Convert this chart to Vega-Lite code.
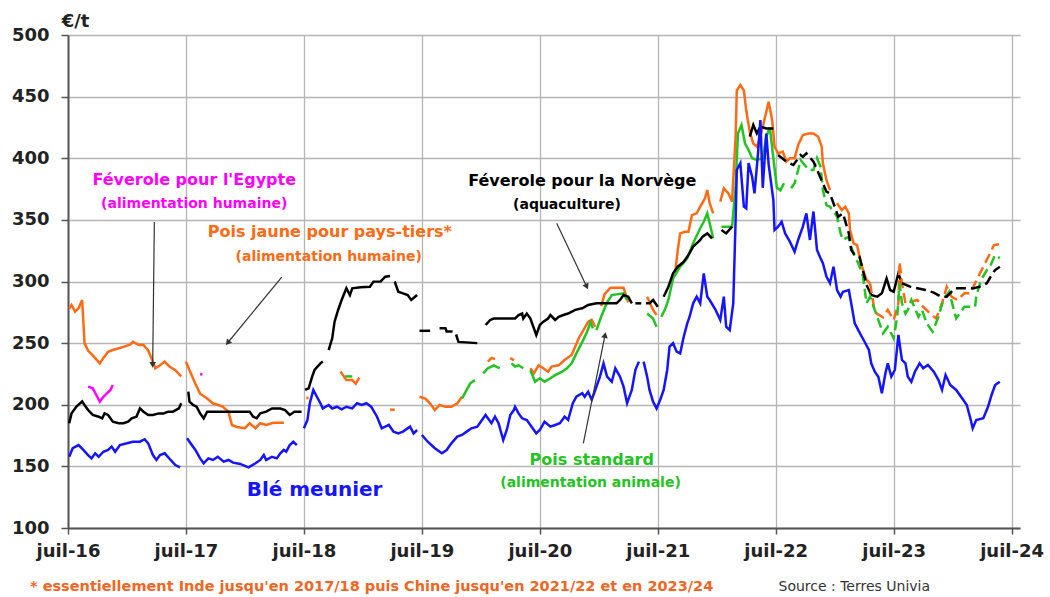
{
"$schema":"https://vega.github.io/schema/vega-lite/v6.json",
"width":952,"height":493,
"autosize":{"type":"none"},
"padding":{"left":68,"top":35,"right":30,"bottom":69},
"background":"white",
"config":{"view":{"stroke":null},"font":"DejaVu Sans"},
"title":{"text":"* essentiellement Inde jusqu'en 2017/18 puis Chine jusqu'en 2021/22 et en 2023/24","orient":"bottom","anchor":"start","frame":"group","offset":0,"dx":-38,"dy":-13,"baseline":"top","fontSize":14.5,"fontWeight":"bold","color":"#f26522","font":"DejaVu Sans"},
"datasets":{
"lines":[
{"s":"J","g":"o1","t":2016.51,"v":278},{"s":"J","g":"o1","t":2016.53,"v":281},{"s":"J","g":"o1","t":2016.56,"v":275.5},{"s":"J","g":"o1","t":2016.59,"v":278.5},{"s":"J","g":"o1","t":2016.62,"v":285},{"s":"J","g":"o1","t":2016.64,"v":250},{"s":"J","g":"o1","t":2016.67,"v":244},{"s":"J","g":"o1","t":2016.71,"v":240},{"s":"J","g":"o1","t":2016.77,"v":233.6},{"s":"J","g":"o1","t":2016.80,"v":238},{"s":"J","g":"o1","t":2016.84,"v":243},{"s":"J","g":"o1","t":2016.88,"v":244.4},{"s":"J","g":"o1","t":2016.93,"v":245.8},{"s":"J","g":"o1","t":2016.97,"v":247},{"s":"J","g":"o1","t":2017.03,"v":249},{"s":"J","g":"o1","t":2017.05,"v":251},{"s":"J","g":"o1","t":2017.10,"v":248.5},{"s":"J","g":"o1","t":2017.14,"v":248.5},{"s":"J","g":"o1","t":2017.18,"v":244},{"s":"J","g":"o1","t":2017.22,"v":235},{"s":"J","g":"o1","t":2017.24,"v":229.6},{"s":"J","g":"o1","t":2017.28,"v":232},{"s":"J","g":"o1","t":2017.32,"v":235},{"s":"J","g":"o1","t":2017.36,"v":231},{"s":"J","g":"o1","t":2017.41,"v":228},{"s":"J","g":"o1","t":2017.46,"v":223},
{"s":"J","g":"o2","t":2017.50,"v":235},{"s":"J","g":"o2","t":2017.53,"v":228},{"s":"J","g":"o2","t":2017.58,"v":217},{"s":"J","g":"o2","t":2017.62,"v":209},{"s":"J","g":"o2","t":2017.68,"v":205},{"s":"J","g":"o2","t":2017.73,"v":201},{"s":"J","g":"o2","t":2017.77,"v":200},{"s":"J","g":"o2","t":2017.81,"v":198.5},{"s":"J","g":"o2","t":2017.86,"v":194.4},{"s":"J","g":"o2","t":2017.89,"v":183.6},{"s":"J","g":"o2","t":2017.93,"v":182},{"s":"J","g":"o2","t":2018.00,"v":181},{"s":"J","g":"o2","t":2018.04,"v":185},{"s":"J","g":"o2","t":2018.09,"v":181},{"s":"J","g":"o2","t":2018.13,"v":185},{"s":"J","g":"o2","t":2018.18,"v":183.6},{"s":"J","g":"o2","t":2018.24,"v":185.4},{"s":"J","g":"o2","t":2018.33,"v":185.4},
{"s":"J","g":"o3","t":2018.52,"v":205.5},{"s":"J","g":"o3","t":2018.54,"v":205.5},
{"s":"J","g":"o4","t":2018.81,"v":227},{"s":"J","g":"o4","t":2018.86,"v":220},{"s":"J","g":"o4","t":2018.91,"v":220},{"s":"J","g":"o4","t":2018.94,"v":217},{"s":"J","g":"o4","t":2018.97,"v":222},
{"s":"J","g":"o5","t":2019.23,"v":196},{"s":"J","g":"o5","t":2019.27,"v":196},
{"s":"J","g":"o6","t":2019.48,"v":206.5},{"s":"J","g":"o6","t":2019.53,"v":205},{"s":"J","g":"o6","t":2019.57,"v":201},{"s":"J","g":"o6","t":2019.61,"v":195.7},{"s":"J","g":"o6","t":2019.65,"v":199.8},{"s":"J","g":"o6","t":2019.70,"v":198.4},{"s":"J","g":"o6","t":2019.75,"v":198.4},{"s":"J","g":"o6","t":2019.80,"v":201},{"s":"J","g":"o6","t":2019.84,"v":206.5},
{"s":"J","g":"o7","t":2020.06,"v":235},{"s":"J","g":"o7","t":2020.09,"v":238},{"s":"J","g":"o7","t":2020.12,"v":237},
{"s":"J","g":"o8","t":2020.25,"v":238},{"s":"J","g":"o8","t":2020.28,"v":236},
{"s":"J","g":"o9","t":2020.42,"v":229.6},{"s":"J","g":"o9","t":2020.45,"v":225.5},{"s":"J","g":"o9","t":2020.49,"v":232},{"s":"J","g":"o9","t":2020.53,"v":229.6},{"s":"J","g":"o9","t":2020.57,"v":226.8},{"s":"J","g":"o9","t":2020.60,"v":231},{"s":"J","g":"o9","t":2020.66,"v":232},{"s":"J","g":"o9","t":2020.71,"v":236.3},{"s":"J","g":"o9","t":2020.77,"v":240.4},{"s":"J","g":"o9","t":2020.80,"v":247},{"s":"J","g":"o9","t":2020.83,"v":254},{"s":"J","g":"o9","t":2020.87,"v":260.6},{"s":"J","g":"o9","t":2020.91,"v":267.4},{"s":"J","g":"o9","t":2020.94,"v":268.8},{"s":"J","g":"o9","t":2020.97,"v":263.3},
{"s":"J","g":"o10","t":2021.02,"v":280},{"s":"J","g":"o10","t":2021.05,"v":290},{"s":"J","g":"o10","t":2021.10,"v":295},{"s":"J","g":"o10","t":2021.21,"v":295},{"s":"J","g":"o10","t":2021.25,"v":283},
{"s":"J","g":"o11","t":2021.41,"v":287.7},{"s":"J","g":"o11","t":2021.46,"v":276.9},{"s":"J","g":"o11","t":2021.49,"v":272.8},
{"s":"J","g":"o12","t":2021.65,"v":309.3},{"s":"J","g":"o12","t":2021.67,"v":325.6},{"s":"J","g":"o12","t":2021.69,"v":339},{"s":"J","g":"o12","t":2021.73,"v":340.4},{"s":"J","g":"o12","t":2021.76,"v":340.4},{"s":"J","g":"o12","t":2021.79,"v":353.9},{"s":"J","g":"o12","t":2021.83,"v":355.3},{"s":"J","g":"o12","t":2021.86,"v":360.7},{"s":"J","g":"o12","t":2021.90,"v":367.5},{"s":"J","g":"o12","t":2021.92,"v":374.2},{"s":"J","g":"o12","t":2021.94,"v":363.5},{"s":"J","g":"o12","t":2021.97,"v":355.3},
{"s":"J","g":"o13","t":2022.03,"v":364.8},{"s":"J","g":"o13","t":2022.06,"v":375.6},{"s":"J","g":"o13","t":2022.10,"v":371.5},{"s":"J","g":"o13","t":2022.13,"v":364.8},{"s":"J","g":"o13","t":2022.16,"v":417.5},{"s":"J","g":"o13","t":2022.17,"v":455},{"s":"J","g":"o13","t":2022.20,"v":459.4},{"s":"J","g":"o13","t":2022.23,"v":455},{"s":"J","g":"o13","t":2022.25,"v":438.9},{"s":"J","g":"o13","t":2022.28,"v":421.5},{"s":"J","g":"o13","t":2022.31,"v":412},{"s":"J","g":"o13","t":2022.34,"v":409.4},{"s":"J","g":"o13","t":2022.37,"v":417.5},{"s":"J","g":"o13","t":2022.41,"v":433.7},{"s":"J","g":"o13","t":2022.44,"v":445.9},{"s":"J","g":"o13","t":2022.47,"v":431},{"s":"J","g":"o13","t":2022.49,"v":409.4},{"s":"J","g":"o13","t":2022.52,"v":404},{"s":"J","g":"o13","t":2022.56,"v":405.4},{"s":"J","g":"o13","t":2022.59,"v":397.3},{"s":"J","g":"o13","t":2022.62,"v":400},{"s":"J","g":"o13","t":2022.66,"v":400},{"s":"J","g":"o13","t":2022.69,"v":410.7},{"s":"J","g":"o13","t":2022.73,"v":418.9},{"s":"J","g":"o13","t":2022.78,"v":420.1},{"s":"J","g":"o13","t":2022.82,"v":420.1},{"s":"J","g":"o13","t":2022.86,"v":417.5},{"s":"J","g":"o13","t":2022.89,"v":409.4},{"s":"J","g":"o13","t":2022.90,"v":395.9},{"s":"J","g":"o13","t":2022.93,"v":382.4},{"s":"J","g":"o13","t":2022.96,"v":374.2},
{"s":"J","g":"o14","t":2023.02,"v":363.5},{"s":"J","g":"o14","t":2023.06,"v":358},{"s":"J","g":"o14","t":2023.09,"v":360.7},{"s":"J","g":"o14","t":2023.12,"v":355.3},{"s":"J","g":"o14","t":2023.13,"v":341.8},{"s":"J","g":"o14","t":2023.16,"v":331},{"s":"J","g":"o14","t":2023.19,"v":329.6},{"s":"J","g":"o14","t":2023.21,"v":320.2},{"s":"J","g":"o14","t":2023.24,"v":309.3},{"s":"J","g":"o14","t":2023.27,"v":301.3},{"s":"J","g":"o14","t":2023.30,"v":298.6},
{"s":"J","g":"o15","t":2023.30,"v":298.6},{"s":"J","g":"o15","t":2023.34,"v":275},{"s":"J","g":"o15","t":2023.41,"v":271},{"s":"J","g":"o15","t":2023.45,"v":277},{"s":"J","g":"o15","t":2023.50,"v":268.8},{"s":"J","g":"o15","t":2023.54,"v":282.3},{"s":"J","g":"o15","t":2023.55,"v":316},{"s":"J","g":"o15","t":2023.57,"v":298.6},{"s":"J","g":"o15","t":2023.60,"v":282.3},{"s":"J","g":"o15","t":2023.70,"v":285},{"s":"J","g":"o15","t":2023.75,"v":279.5},{"s":"J","g":"o15","t":2023.81,"v":274},{"s":"J","g":"o15","t":2023.86,"v":270},{"s":"J","g":"o15","t":2023.91,"v":282.3},{"s":"J","g":"o15","t":2023.95,"v":295.8},{"s":"J","g":"o15","t":2023.99,"v":287.7},{"s":"J","g":"o15","t":2024.04,"v":285},{"s":"J","g":"o15","t":2024.10,"v":290.4},{"s":"J","g":"o15","t":2024.15,"v":290.4},{"s":"J","g":"o15","t":2024.19,"v":298.6},{"s":"J","g":"o15","t":2024.26,"v":312},{"s":"J","g":"o15","t":2024.31,"v":321.5},{"s":"J","g":"o15","t":2024.35,"v":329.6},{"s":"J","g":"o15","t":2024.40,"v":330.4},
{"s":"S","g":"g1","t":2018.85,"v":223},{"s":"S","g":"g1","t":2018.91,"v":223},
{"s":"S","g":"g2","t":2019.84,"v":205},{"s":"S","g":"g2","t":2019.88,"v":212},{"s":"S","g":"g2","t":2019.91,"v":217.4},{"s":"S","g":"g2","t":2019.95,"v":220},
{"s":"S","g":"g3","t":2020.02,"v":225.5},{"s":"S","g":"g3","t":2020.06,"v":229.6},{"s":"S","g":"g3","t":2020.11,"v":232},{"s":"S","g":"g3","t":2020.16,"v":229.6},
{"s":"S","g":"g4","t":2020.26,"v":233.6},{"s":"S","g":"g4","t":2020.29,"v":231},{"s":"S","g":"g4","t":2020.32,"v":232},{"s":"S","g":"g4","t":2020.36,"v":229.6},
{"s":"S","g":"g5","t":2020.42,"v":228},{"s":"S","g":"g5","t":2020.46,"v":218.7},{"s":"S","g":"g5","t":2020.50,"v":221.5},{"s":"S","g":"g5","t":2020.54,"v":218.7},{"s":"S","g":"g5","t":2020.59,"v":221.5},{"s":"S","g":"g5","t":2020.63,"v":224},{"s":"S","g":"g5","t":2020.69,"v":226.8},{"s":"S","g":"g5","t":2020.73,"v":229.6},{"s":"S","g":"g5","t":2020.77,"v":233.6},{"s":"S","g":"g5","t":2020.81,"v":241.7},{"s":"S","g":"g5","t":2020.86,"v":251},{"s":"S","g":"g5","t":2020.90,"v":259},{"s":"S","g":"g5","t":2020.93,"v":267},{"s":"S","g":"g5","t":2020.95,"v":262},
{"s":"S","g":"g6","t":2020.98,"v":260.6},{"s":"S","g":"g6","t":2021.02,"v":271.4},{"s":"S","g":"g6","t":2021.07,"v":283},{"s":"S","g":"g6","t":2021.11,"v":289},{"s":"S","g":"g6","t":2021.21,"v":290.4},{"s":"S","g":"g6","t":2021.24,"v":285},
{"s":"S","g":"g7","t":2021.41,"v":274},{"s":"S","g":"g7","t":2021.46,"v":270},{"s":"S","g":"g7","t":2021.49,"v":263.3},
{"s":"S","g":"g8","t":2021.53,"v":271.4},{"s":"S","g":"g8","t":2021.56,"v":277},{"s":"S","g":"g8","t":2021.59,"v":285},{"s":"S","g":"g8","t":2021.63,"v":302.5},{"s":"S","g":"g8","t":2021.69,"v":312},{"s":"S","g":"g8","t":2021.75,"v":318.8},{"s":"S","g":"g8","t":2021.80,"v":331},{"s":"S","g":"g8","t":2021.86,"v":343.2},{"s":"S","g":"g8","t":2021.89,"v":348.5},{"s":"S","g":"g8","t":2021.92,"v":355.3},{"s":"S","g":"g8","t":2021.94,"v":347.2},{"s":"S","g":"g8","t":2021.97,"v":335},
{"s":"S","g":"g9","t":2022.04,"v":344.5},{"s":"S","g":"g9","t":2022.13,"v":344.5},{"s":"S","g":"g9","t":2022.16,"v":377},{"s":"S","g":"g9","t":2022.18,"v":420.2},{"s":"S","g":"g9","t":2022.21,"v":427},{"s":"S","g":"g9","t":2022.24,"v":412},{"s":"S","g":"g9","t":2022.27,"v":406.7},{"s":"S","g":"g9","t":2022.30,"v":400},{"s":"S","g":"g9","t":2022.34,"v":398.6},{"s":"S","g":"g9","t":2022.39,"v":400},{"s":"S","g":"g9","t":2022.42,"v":417.5},{"s":"S","g":"g9","t":2022.45,"v":425},{"s":"S","g":"g9","t":2022.48,"v":400},{"s":"S","g":"g9","t":2022.51,"v":376},{"s":"S","g":"g9","t":2022.54,"v":374},{"s":"S","g":"g9","t":2022.57,"v":379.7},
{"s":"S","g":"g10","t":2022.63,"v":375.6},{"s":"S","g":"g10","t":2022.66,"v":379.7},{"s":"S","g":"g10","t":2022.69,"v":390.5},{"s":"S","g":"g10","t":2022.71,"v":398.6},{"s":"S","g":"g10","t":2022.78,"v":390.5},{"s":"S","g":"g10","t":2022.82,"v":390.5},{"s":"S","g":"g10","t":2022.85,"v":400},{"s":"S","g":"g10","t":2022.88,"v":393.3},{"s":"S","g":"g10","t":2022.90,"v":374.2},{"s":"S","g":"g10","t":2022.93,"v":362},{"s":"S","g":"g10","t":2022.96,"v":360.7},{"s":"S","g":"g10","t":2023.02,"v":352.6},{"s":"S","g":"g10","t":2023.05,"v":339},{"s":"S","g":"g10","t":2023.07,"v":333.7},{"s":"S","g":"g10","t":2023.12,"v":336.4},{"s":"S","g":"g10","t":2023.14,"v":328.3},{"s":"S","g":"g10","t":2023.17,"v":320.2},{"s":"S","g":"g10","t":2023.20,"v":314.8},{"s":"S","g":"g10","t":2023.24,"v":304},{"s":"S","g":"g10","t":2023.27,"v":282.3},{"s":"S","g":"g10","t":2023.30,"v":287.7},{"s":"S","g":"g10","t":2023.41,"v":258},{"s":"S","g":"g10","t":2023.45,"v":263.3},{"s":"S","g":"g10","t":2023.50,"v":254},{"s":"S","g":"g10","t":2023.53,"v":271.4},{"s":"S","g":"g10","t":2023.55,"v":298.6},{"s":"S","g":"g10","t":2023.57,"v":282.3},{"s":"S","g":"g10","t":2023.60,"v":274},{"s":"S","g":"g10","t":2023.62,"v":277},{"s":"S","g":"g10","t":2023.65,"v":285},{"s":"S","g":"g10","t":2023.71,"v":271.4},{"s":"S","g":"g10","t":2023.74,"v":277},{"s":"S","g":"g10","t":2023.78,"v":266},{"s":"S","g":"g10","t":2023.83,"v":259.3},{"s":"S","g":"g10","t":2023.88,"v":271.4},{"s":"S","g":"g10","t":2023.92,"v":285},{"s":"S","g":"g10","t":2023.97,"v":291.7},{"s":"S","g":"g10","t":2024.03,"v":270},{"s":"S","g":"g10","t":2024.06,"v":274},{"s":"S","g":"g10","t":2024.10,"v":279.5},{"s":"S","g":"g10","t":2024.19,"v":279.5},{"s":"S","g":"g10","t":2024.20,"v":287.7},{"s":"S","g":"g10","t":2024.24,"v":301.3},{"s":"S","g":"g10","t":2024.29,"v":309.3},{"s":"S","g":"g10","t":2024.31,"v":310.7},{"s":"S","g":"g10","t":2024.36,"v":321.5},{"s":"S","g":"g10","t":2024.40,"v":318.8},
{"s":"E","g":"m1","t":2016.67,"v":214.7},{"s":"E","g":"m1","t":2016.71,"v":213.3},{"s":"E","g":"m1","t":2016.74,"v":207.9},{"s":"E","g":"m1","t":2016.77,"v":202.5},{"s":"E","g":"m1","t":2016.80,"v":206.5},{"s":"E","g":"m1","t":2016.83,"v":209.3},{"s":"E","g":"m1","t":2016.86,"v":212},{"s":"E","g":"m1","t":2016.88,"v":216},
{"s":"E","g":"m2","t":2017.62,"v":224.7},{"s":"E","g":"m2","t":2017.64,"v":224.7},
{"s":"N","g":"k1","t":2016.51,"v":185},{"s":"N","g":"k1","t":2016.53,"v":193},{"s":"N","g":"k1","t":2016.57,"v":198.4},{"s":"N","g":"k1","t":2016.62,"v":202.7},{"s":"N","g":"k1","t":2016.64,"v":199.8},{"s":"N","g":"k1","t":2016.67,"v":195.7},{"s":"N","g":"k1","t":2016.71,"v":191.7},{"s":"N","g":"k1","t":2016.76,"v":190.3},{"s":"N","g":"k1","t":2016.79,"v":189},{"s":"N","g":"k1","t":2016.81,"v":193},{"s":"N","g":"k1","t":2016.84,"v":191.7},{"s":"N","g":"k1","t":2016.88,"v":186.2},{"s":"N","g":"k1","t":2016.93,"v":185},{"s":"N","g":"k1","t":2016.97,"v":185},{"s":"N","g":"k1","t":2017.01,"v":186.2},{"s":"N","g":"k1","t":2017.04,"v":189},{"s":"N","g":"k1","t":2017.08,"v":190.3},{"s":"N","g":"k1","t":2017.11,"v":197},{"s":"N","g":"k1","t":2017.14,"v":194.4},{"s":"N","g":"k1","t":2017.18,"v":191.7},{"s":"N","g":"k1","t":2017.22,"v":191.7},{"s":"N","g":"k1","t":2017.27,"v":193},{"s":"N","g":"k1","t":2017.31,"v":193},{"s":"N","g":"k1","t":2017.35,"v":194.4},{"s":"N","g":"k1","t":2017.39,"v":194.4},{"s":"N","g":"k1","t":2017.44,"v":197},{"s":"N","g":"k1","t":2017.46,"v":201.2},
{"s":"N","g":"k2","t":2017.52,"v":210.6},{"s":"N","g":"k2","t":2017.53,"v":202.5},{"s":"N","g":"k2","t":2017.56,"v":199.8},{"s":"N","g":"k2","t":2017.59,"v":198.4},{"s":"N","g":"k2","t":2017.62,"v":193},{"s":"N","g":"k2","t":2017.65,"v":189},{"s":"N","g":"k2","t":2017.68,"v":194.4},{"s":"N","g":"k2","t":2018.04,"v":194.4},{"s":"N","g":"k2","t":2018.07,"v":190.3},{"s":"N","g":"k2","t":2018.10,"v":189},{"s":"N","g":"k2","t":2018.13,"v":193},{"s":"N","g":"k2","t":2018.18,"v":194.4},{"s":"N","g":"k2","t":2018.23,"v":197},{"s":"N","g":"k2","t":2018.30,"v":197},{"s":"N","g":"k2","t":2018.34,"v":195.7},{"s":"N","g":"k2","t":2018.38,"v":191.7},{"s":"N","g":"k2","t":2018.42,"v":194.4},{"s":"N","g":"k2","t":2018.48,"v":194.4},
{"s":"N","g":"k3","t":2018.51,"v":212},{"s":"N","g":"k3","t":2018.54,"v":213.3},{"s":"N","g":"k3","t":2018.57,"v":222.8},{"s":"N","g":"k3","t":2018.59,"v":228.2},{"s":"N","g":"k3","t":2018.64,"v":233.6},{"s":"N","g":"k3","t":2018.66,"v":235},
{"s":"N","g":"k4","t":2018.71,"v":244.4},{"s":"N","g":"k4","t":2018.74,"v":253.9},{"s":"N","g":"k4","t":2018.76,"v":267.4},{"s":"N","g":"k4","t":2018.79,"v":276.9},{"s":"N","g":"k4","t":2018.82,"v":285},{"s":"N","g":"k4","t":2018.86,"v":294.5},{"s":"N","g":"k4","t":2018.89,"v":289},{"s":"N","g":"k4","t":2018.91,"v":294.5},{"s":"N","g":"k4","t":2018.98,"v":295.3},{"s":"N","g":"k4","t":2019.06,"v":295.8},{"s":"N","g":"k4","t":2019.09,"v":299.9},{"s":"N","g":"k4","t":2019.15,"v":300},{"s":"N","g":"k4","t":2019.19,"v":303.9},{"s":"N","g":"k4","t":2019.23,"v":304.5},
{"s":"N","g":"k5","t":2019.27,"v":300},{"s":"N","g":"k5","t":2019.30,"v":291.7},{"s":"N","g":"k5","t":2019.34,"v":290.4},{"s":"N","g":"k5","t":2019.38,"v":289},{"s":"N","g":"k5","t":2019.41,"v":285},{"s":"N","g":"k5","t":2019.46,"v":289},
{"s":"N","g":"k6","t":2019.48,"v":260},{"s":"N","g":"k6","t":2019.57,"v":260},
{"s":"N","g":"k7","t":2019.65,"v":262},{"s":"N","g":"k7","t":2019.70,"v":262},{"s":"N","g":"k7","t":2019.71,"v":259.5},{"s":"N","g":"k7","t":2019.76,"v":259.5},
{"s":"N","g":"k8","t":2019.79,"v":257},{"s":"N","g":"k8","t":2019.81,"v":251},{"s":"N","g":"k8","t":2019.97,"v":250},
{"s":"N","g":"k9","t":2020.04,"v":264.7},{"s":"N","g":"k9","t":2020.08,"v":268.8},{"s":"N","g":"k9","t":2020.11,"v":270},{"s":"N","g":"k9","t":2020.29,"v":270},{"s":"N","g":"k9","t":2020.32,"v":272.8},{"s":"N","g":"k9","t":2020.35,"v":274},{"s":"N","g":"k9","t":2020.36,"v":270},{"s":"N","g":"k9","t":2020.39,"v":274},{"s":"N","g":"k9","t":2020.42,"v":270},{"s":"N","g":"k9","t":2020.45,"v":262},{"s":"N","g":"k9","t":2020.47,"v":256.6},{"s":"N","g":"k9","t":2020.50,"v":264.7},{"s":"N","g":"k9","t":2020.53,"v":267.4},{"s":"N","g":"k9","t":2020.57,"v":270},{"s":"N","g":"k9","t":2020.59,"v":272.8},{"s":"N","g":"k9","t":2020.63,"v":268.8},{"s":"N","g":"k9","t":2020.66,"v":271.4},{"s":"N","g":"k9","t":2020.70,"v":272.8},{"s":"N","g":"k9","t":2020.74,"v":274},{"s":"N","g":"k9","t":2020.80,"v":277},{"s":"N","g":"k9","t":2020.86,"v":278.3},{"s":"N","g":"k9","t":2020.91,"v":281},{"s":"N","g":"k9","t":2020.98,"v":282.3},{"s":"N","g":"k9","t":2021.07,"v":282.3},{"s":"N","g":"k9","t":2021.15,"v":282.3},{"s":"N","g":"k9","t":2021.18,"v":285},{"s":"N","g":"k9","t":2021.21,"v":289},{"s":"N","g":"k9","t":2021.25,"v":287.7},{"s":"N","g":"k9","t":2021.28,"v":282.3},
{"s":"N","g":"k10","t":2021.31,"v":282.3},{"s":"N","g":"k10","t":2021.36,"v":282.3},
{"s":"N","g":"k11","t":2021.40,"v":282.3},{"s":"N","g":"k11","t":2021.43,"v":282.3},{"s":"N","g":"k11","t":2021.46,"v":285},{"s":"N","g":"k11","t":2021.50,"v":279.5},
{"s":"N","g":"k12","t":2021.55,"v":287.7},{"s":"N","g":"k12","t":2021.59,"v":295.8},{"s":"N","g":"k12","t":2021.63,"v":306.6},{"s":"N","g":"k12","t":2021.67,"v":312},{"s":"N","g":"k12","t":2021.72,"v":316},{"s":"N","g":"k12","t":2021.76,"v":321.5},{"s":"N","g":"k12","t":2021.80,"v":328.3},{"s":"N","g":"k12","t":2021.83,"v":331},{"s":"N","g":"k12","t":2021.86,"v":333.7},{"s":"N","g":"k12","t":2021.88,"v":336.4},{"s":"N","g":"k12","t":2021.92,"v":339},{"s":"N","g":"k12","t":2021.96,"v":335},
{"s":"N","g":"k13","t":2022.04,"v":341.8},{"s":"N","g":"k13","t":2022.08,"v":339},{"s":"N","g":"k13","t":2022.13,"v":344.5},
{"s":"N","g":"k14","t":2022.28,"v":417.5},{"s":"N","g":"k14","t":2022.31,"v":427},{"s":"N","g":"k14","t":2022.34,"v":420.2},{"s":"N","g":"k14","t":2022.37,"v":425.6},{"s":"N","g":"k14","t":2022.42,"v":424.2},{"s":"N","g":"k14","t":2022.48,"v":424.2},
{"s":"N","g":"k15","t":2022.52,"v":402.6},{"s":"N","g":"k15","t":2022.59,"v":397.3},{"s":"N","g":"k15","t":2022.65,"v":394.5},{"s":"N","g":"k15","t":2022.71,"v":402.6},{"s":"N","g":"k15","t":2022.73,"v":401.2},{"s":"N","g":"k15","t":2022.76,"v":404},{"s":"N","g":"k15","t":2022.82,"v":397.3},{"s":"N","g":"k15","t":2022.93,"v":372.9},{"s":"N","g":"k15","t":2022.96,"v":371.5},{"s":"N","g":"k15","t":2023.03,"v":352.6},{"s":"N","g":"k15","t":2023.07,"v":355.3},{"s":"N","g":"k15","t":2023.12,"v":339},{"s":"N","g":"k15","t":2023.14,"v":325.6},{"s":"N","g":"k15","t":2023.17,"v":321.5},{"s":"N","g":"k15","t":2023.21,"v":320.2},{"s":"N","g":"k15","t":2023.27,"v":297.2},
{"s":"N","g":"k19","t":2023.27,"v":297.2},{"s":"N","g":"k19","t":2023.31,"v":289},{"s":"N","g":"k19","t":2023.36,"v":287.7},{"s":"N","g":"k19","t":2023.40,"v":290.4},{"s":"N","g":"k19","t":2023.44,"v":302.5},{"s":"N","g":"k19","t":2023.47,"v":293.1},{"s":"N","g":"k19","t":2023.50,"v":291.7},{"s":"N","g":"k19","t":2023.54,"v":306.6},{"s":"N","g":"k19","t":2023.57,"v":298.6},
{"s":"N","g":"k20","t":2023.57,"v":298.6},{"s":"N","g":"k20","t":2023.64,"v":295.8},{"s":"N","g":"k20","t":2023.70,"v":294.5},{"s":"N","g":"k20","t":2023.77,"v":293.1},{"s":"N","g":"k20","t":2023.84,"v":291},{"s":"N","g":"k20","t":2023.90,"v":287.7},{"s":"N","g":"k20","t":2023.95,"v":287.7},{"s":"N","g":"k20","t":2024.02,"v":294.5},{"s":"N","g":"k20","t":2024.09,"v":294.5},{"s":"N","g":"k20","t":2024.18,"v":294.5},{"s":"N","g":"k20","t":2024.23,"v":295.8},{"s":"N","g":"k20","t":2024.29,"v":298.6},{"s":"N","g":"k20","t":2024.33,"v":305.3},{"s":"N","g":"k20","t":2024.36,"v":309.3},{"s":"N","g":"k20","t":2024.40,"v":312},
{"s":"B","g":"b1","t":2016.51,"v":157.8},{"s":"B","g":"b1","t":2016.54,"v":164.7},{"s":"B","g":"b1","t":2016.59,"v":167.3},{"s":"B","g":"b1","t":2016.63,"v":163.3},{"s":"B","g":"b1","t":2016.67,"v":159.2},{"s":"B","g":"b1","t":2016.70,"v":156.5},{"s":"B","g":"b1","t":2016.73,"v":160.6},{"s":"B","g":"b1","t":2016.76,"v":157.8},{"s":"B","g":"b1","t":2016.80,"v":161.9},{"s":"B","g":"b1","t":2016.84,"v":163.3},{"s":"B","g":"b1","t":2016.87,"v":166},{"s":"B","g":"b1","t":2016.90,"v":161.9},{"s":"B","g":"b1","t":2016.94,"v":167.3},{"s":"B","g":"b1","t":2017.00,"v":168.7},{"s":"B","g":"b1","t":2017.05,"v":170},{"s":"B","g":"b1","t":2017.11,"v":170},{"s":"B","g":"b1","t":2017.15,"v":172},{"s":"B","g":"b1","t":2017.18,"v":168.7},{"s":"B","g":"b1","t":2017.22,"v":159.2},{"s":"B","g":"b1","t":2017.25,"v":155.2},{"s":"B","g":"b1","t":2017.28,"v":159.2},{"s":"B","g":"b1","t":2017.32,"v":160.6},{"s":"B","g":"b1","t":2017.37,"v":155.2},{"s":"B","g":"b1","t":2017.41,"v":151.1},{"s":"B","g":"b1","t":2017.45,"v":149.2},
{"s":"B","g":"b2","t":2017.51,"v":172.8},{"s":"B","g":"b2","t":2017.53,"v":170},{"s":"B","g":"b2","t":2017.58,"v":163.3},{"s":"B","g":"b2","t":2017.62,"v":156.5},{"s":"B","g":"b2","t":2017.65,"v":152.5},{"s":"B","g":"b2","t":2017.69,"v":156.5},{"s":"B","g":"b2","t":2017.73,"v":155.2},{"s":"B","g":"b2","t":2017.77,"v":157.8},{"s":"B","g":"b2","t":2017.82,"v":153.8},{"s":"B","g":"b2","t":2017.86,"v":155.2},{"s":"B","g":"b2","t":2017.90,"v":153},{"s":"B","g":"b2","t":2017.96,"v":152},{"s":"B","g":"b2","t":2018.03,"v":149.2},{"s":"B","g":"b2","t":2018.09,"v":152.5},{"s":"B","g":"b2","t":2018.13,"v":155.2},{"s":"B","g":"b2","t":2018.16,"v":159.2},{"s":"B","g":"b2","t":2018.18,"v":155.2},{"s":"B","g":"b2","t":2018.23,"v":157.8},{"s":"B","g":"b2","t":2018.27,"v":156.5},{"s":"B","g":"b2","t":2018.30,"v":160.6},{"s":"B","g":"b2","t":2018.33,"v":163.3},{"s":"B","g":"b2","t":2018.35,"v":161.9},{"s":"B","g":"b2","t":2018.38,"v":167.3},{"s":"B","g":"b2","t":2018.41,"v":170},{"s":"B","g":"b2","t":2018.44,"v":167.3},
{"s":"B","g":"b3","t":2018.50,"v":180.9},{"s":"B","g":"b3","t":2018.53,"v":187.6},{"s":"B","g":"b3","t":2018.55,"v":201.2},{"s":"B","g":"b3","t":2018.58,"v":212},{"s":"B","g":"b3","t":2018.61,"v":206.5},{"s":"B","g":"b3","t":2018.64,"v":201.2},{"s":"B","g":"b3","t":2018.66,"v":197},{"s":"B","g":"b3","t":2018.71,"v":199.8},{"s":"B","g":"b3","t":2018.74,"v":197},{"s":"B","g":"b3","t":2018.78,"v":198.4},{"s":"B","g":"b3","t":2018.82,"v":196.3},{"s":"B","g":"b3","t":2018.86,"v":198.4},{"s":"B","g":"b3","t":2018.91,"v":197},{"s":"B","g":"b3","t":2018.95,"v":201.2},{"s":"B","g":"b3","t":2018.99,"v":199.8},{"s":"B","g":"b3","t":2019.03,"v":201.2},{"s":"B","g":"b3","t":2019.07,"v":198.4},{"s":"B","g":"b3","t":2019.12,"v":190.3},{"s":"B","g":"b3","t":2019.16,"v":180.9},{"s":"B","g":"b3","t":2019.19,"v":182.2},{"s":"B","g":"b3","t":2019.22,"v":183.6},{"s":"B","g":"b3","t":2019.26,"v":178.2},{"s":"B","g":"b3","t":2019.30,"v":176.8},{"s":"B","g":"b3","t":2019.34,"v":178.2},{"s":"B","g":"b3","t":2019.40,"v":182.2},{"s":"B","g":"b3","t":2019.43,"v":176.8},{"s":"B","g":"b3","t":2019.46,"v":179.5},
{"s":"B","g":"b4","t":2019.50,"v":175.5},{"s":"B","g":"b4","t":2019.55,"v":170},{"s":"B","g":"b4","t":2019.61,"v":164.7},{"s":"B","g":"b4","t":2019.67,"v":160.6},{"s":"B","g":"b4","t":2019.71,"v":163.3},{"s":"B","g":"b4","t":2019.75,"v":168.7},{"s":"B","g":"b4","t":2019.80,"v":174.1},{"s":"B","g":"b4","t":2019.84,"v":175.5},{"s":"B","g":"b4","t":2019.88,"v":178.2},{"s":"B","g":"b4","t":2019.92,"v":180.9},{"s":"B","g":"b4","t":2019.97,"v":182.2},{"s":"B","g":"b4","t":2020.01,"v":187.6},{"s":"B","g":"b4","t":2020.04,"v":191.7},{"s":"B","g":"b4","t":2020.06,"v":189},{"s":"B","g":"b4","t":2020.09,"v":185},{"s":"B","g":"b4","t":2020.12,"v":190.3},{"s":"B","g":"b4","t":2020.15,"v":185},{"s":"B","g":"b4","t":2020.19,"v":171.4},{"s":"B","g":"b4","t":2020.22,"v":179.5},{"s":"B","g":"b4","t":2020.25,"v":191.7},{"s":"B","g":"b4","t":2020.28,"v":195.7},{"s":"B","g":"b4","t":2020.29,"v":198.4},{"s":"B","g":"b4","t":2020.32,"v":193},{"s":"B","g":"b4","t":2020.35,"v":189},{"s":"B","g":"b4","t":2020.39,"v":187.6},{"s":"B","g":"b4","t":2020.43,"v":182.2},{"s":"B","g":"b4","t":2020.47,"v":176.8},{"s":"B","g":"b4","t":2020.50,"v":179.5},{"s":"B","g":"b4","t":2020.54,"v":186.2},{"s":"B","g":"b4","t":2020.59,"v":182.2},{"s":"B","g":"b4","t":2020.63,"v":183.6},{"s":"B","g":"b4","t":2020.67,"v":185},{"s":"B","g":"b4","t":2020.71,"v":190.3},{"s":"B","g":"b4","t":2020.74,"v":187.6},{"s":"B","g":"b4","t":2020.78,"v":201.2},{"s":"B","g":"b4","t":2020.81,"v":206.5},{"s":"B","g":"b4","t":2020.86,"v":209.3},{"s":"B","g":"b4","t":2020.88,"v":206.5},{"s":"B","g":"b4","t":2020.91,"v":210.6},{"s":"B","g":"b4","t":2020.94,"v":203.9},{"s":"B","g":"b4","t":2020.97,"v":212},{"s":"B","g":"b4","t":2021.01,"v":222.8},{"s":"B","g":"b4","t":2021.04,"v":233.6},{"s":"B","g":"b4","t":2021.07,"v":222.8},{"s":"B","g":"b4","t":2021.11,"v":218.7},{"s":"B","g":"b4","t":2021.14,"v":229.6},{"s":"B","g":"b4","t":2021.18,"v":222.8},{"s":"B","g":"b4","t":2021.21,"v":214.7},{"s":"B","g":"b4","t":2021.24,"v":201.2},{"s":"B","g":"b4","t":2021.28,"v":212},{"s":"B","g":"b4","t":2021.31,"v":228.2},{"s":"B","g":"b4","t":2021.34,"v":235},
{"s":"B","g":"b5","t":2021.38,"v":235},{"s":"B","g":"b5","t":2021.41,"v":222.8},{"s":"B","g":"b5","t":2021.43,"v":212},{"s":"B","g":"b5","t":2021.46,"v":202.5},{"s":"B","g":"b5","t":2021.49,"v":197},{"s":"B","g":"b5","t":2021.52,"v":203.9},{"s":"B","g":"b5","t":2021.55,"v":212},{"s":"B","g":"b5","t":2021.58,"v":228.2},{"s":"B","g":"b5","t":2021.60,"v":247.1},{"s":"B","g":"b5","t":2021.63,"v":249.9},{"s":"B","g":"b5","t":2021.66,"v":243.1},{"s":"B","g":"b5","t":2021.69,"v":241.7},{"s":"B","g":"b5","t":2021.72,"v":255.2},{"s":"B","g":"b5","t":2021.75,"v":266},{"s":"B","g":"b5","t":2021.77,"v":271.4},{"s":"B","g":"b5","t":2021.80,"v":282.3},{"s":"B","g":"b5","t":2021.83,"v":287.7},{"s":"B","g":"b5","t":2021.86,"v":282.3},{"s":"B","g":"b5","t":2021.89,"v":306.6},{"s":"B","g":"b5","t":2021.92,"v":287.7},{"s":"B","g":"b5","t":2021.94,"v":285},{"s":"B","g":"b5","t":2021.99,"v":277},{"s":"B","g":"b5","t":2022.03,"v":268.8},{"s":"B","g":"b5","t":2022.06,"v":287.7},{"s":"B","g":"b5","t":2022.08,"v":263.3},{"s":"B","g":"b5","t":2022.11,"v":260.6},{"s":"B","g":"b5","t":2022.14,"v":282.3},{"s":"B","g":"b5","t":2022.16,"v":350},{"s":"B","g":"b5","t":2022.17,"v":390.5},{"s":"B","g":"b5","t":2022.20,"v":396},{"s":"B","g":"b5","t":2022.23,"v":360.8},{"s":"B","g":"b5","t":2022.25,"v":359.4},{"s":"B","g":"b5","t":2022.27,"v":396},{"s":"B","g":"b5","t":2022.30,"v":385},{"s":"B","g":"b5","t":2022.32,"v":371.5},{"s":"B","g":"b5","t":2022.35,"v":404},{"s":"B","g":"b5","t":2022.37,"v":431},{"s":"B","g":"b5","t":2022.39,"v":376},{"s":"B","g":"b5","t":2022.42,"v":420},{"s":"B","g":"b5","t":2022.44,"v":395},{"s":"B","g":"b5","t":2022.48,"v":366},{"s":"B","g":"b5","t":2022.49,"v":341.8},{"s":"B","g":"b5","t":2022.52,"v":344.5},{"s":"B","g":"b5","t":2022.55,"v":348.5},{"s":"B","g":"b5","t":2022.58,"v":339},{"s":"B","g":"b5","t":2022.62,"v":332.3},{"s":"B","g":"b5","t":2022.66,"v":324.2},{"s":"B","g":"b5","t":2022.69,"v":333.7},{"s":"B","g":"b5","t":2022.73,"v":344.5},{"s":"B","g":"b5","t":2022.76,"v":355.3},{"s":"B","g":"b5","t":2022.79,"v":333.7},{"s":"B","g":"b5","t":2022.82,"v":356.8},{"s":"B","g":"b5","t":2022.85,"v":325.6},{"s":"B","g":"b5","t":2022.88,"v":318.8},{"s":"B","g":"b5","t":2022.90,"v":314.8},{"s":"B","g":"b5","t":2022.93,"v":304},{"s":"B","g":"b5","t":2022.96,"v":298.6},{"s":"B","g":"b5","t":2022.99,"v":312},{"s":"B","g":"b5","t":2023.02,"v":293.1},{"s":"B","g":"b5","t":2023.05,"v":287.7},{"s":"B","g":"b5","t":2023.07,"v":291.7},{"s":"B","g":"b5","t":2023.12,"v":293.1},{"s":"B","g":"b5","t":2023.14,"v":282.3},{"s":"B","g":"b5","t":2023.17,"v":266},{"s":"B","g":"b5","t":2023.20,"v":260.6},{"s":"B","g":"b5","t":2023.23,"v":255.2},{"s":"B","g":"b5","t":2023.26,"v":249.9},{"s":"B","g":"b5","t":2023.29,"v":244.4},{"s":"B","g":"b5","t":2023.31,"v":233.6},{"s":"B","g":"b5","t":2023.34,"v":226.8},{"s":"B","g":"b5","t":2023.37,"v":222.8},{"s":"B","g":"b5","t":2023.40,"v":209.3},{"s":"B","g":"b5","t":2023.43,"v":225.5},{"s":"B","g":"b5","t":2023.45,"v":233.6},{"s":"B","g":"b5","t":2023.48,"v":222.8},{"s":"B","g":"b5","t":2023.51,"v":228.2},{"s":"B","g":"b5","t":2023.54,"v":256.6},{"s":"B","g":"b5","t":2023.57,"v":236.3},{"s":"B","g":"b5","t":2023.60,"v":233.6},{"s":"B","g":"b5","t":2023.62,"v":222.8},{"s":"B","g":"b5","t":2023.65,"v":218.7},{"s":"B","g":"b5","t":2023.68,"v":226.8},{"s":"B","g":"b5","t":2023.72,"v":233.6},{"s":"B","g":"b5","t":2023.75,"v":229.6},{"s":"B","g":"b5","t":2023.79,"v":232.3},{"s":"B","g":"b5","t":2023.84,"v":226.8},{"s":"B","g":"b5","t":2023.88,"v":220},{"s":"B","g":"b5","t":2023.91,"v":212},{"s":"B","g":"b5","t":2023.94,"v":224.1},{"s":"B","g":"b5","t":2023.98,"v":216},{"s":"B","g":"b5","t":2024.03,"v":212},{"s":"B","g":"b5","t":2024.08,"v":205.2},{"s":"B","g":"b5","t":2024.12,"v":199.8},{"s":"B","g":"b5","t":2024.15,"v":189},{"s":"B","g":"b5","t":2024.17,"v":180.9},{"s":"B","g":"b5","t":2024.20,"v":187.6},{"s":"B","g":"b5","t":2024.26,"v":189},{"s":"B","g":"b5","t":2024.30,"v":198.4},{"s":"B","g":"b5","t":2024.33,"v":207.9},{"s":"B","g":"b5","t":2024.36,"v":216},{"s":"B","g":"b5","t":2024.40,"v":218.7}
],
"labels":[
{"s":"E","txt":"Féverole pour l'Egypte","t":2017.57,"v":382.4,"k":"main"},
{"s":"E","txt":"(alimentation humaine)","t":2017.57,"v":362.9,"k":"sub"},
{"s":"J","txt":"Pois jaune pour pays-tiers*","t":2018.72,"v":340.2,"k":"main"},
{"s":"J","txt":"(alimentation humaine)","t":2018.71,"v":319.9,"k":"sub"},
{"s":"N","txt":"Féverole pour la Norvège","t":2020.86,"v":381.5,"k":"main"},
{"s":"N","txt":"(aquaculture)","t":2020.73,"v":362.1,"k":"sub"},
{"s":"S","txt":"Pois standard","t":2020.94,"v":155.2,"k":"main"},
{"s":"S","txt":"(alimentation animale)","t":2020.93,"v":136.5,"k":"sub"},
{"s":"B","txt":"Blé meunier","t":2018.59,"v":130.8,"k":"big"}
],
"arrows":[
{"t":2017.232,"v":348.3,"t2":2017.218,"v2":232.3},
{"t":2018.312,"v":303.6,"t2":2017.854,"v2":250.3},
{"t":2020.643,"v":347.2,"t2":2020.898,"v2":295.8},
{"t":2020.869,"v":168.7,"t2":2021.053,"v2":256.6}
]
},
"layer":[
{"data":{"name":"lines"},
 "transform":[{"filter":{"not":{"field":"g","oneOf":["k15","k20","o15","g10"]}}}],
 "mark":{"type":"line","strokeWidth":2.5,"clip":true},
 "encoding":{
  "x":{"field":"t","type":"quantitative","scale":{"domain":[2016.5,2024.571],"nice":false,"zero":false},
   "axis":{"values":[2016.5,2017.5,2018.5,2019.5,2020.5,2021.5,2022.5,2023.5,2024.5],"labelExpr":"'juil-' + format(floor(datum.value) % 100, '02d')","labelFont":"DejaVu Sans","labelFontSize":18,"labelFontWeight":"bold","labelColor":"#222","labelPadding":8,"labelFlush":false,"grid":true,"gridColor":"#b5b5b5","gridWidth":1.3,"domainColor":"#555","domainWidth":2,"tickColor":"#555","tickSize":6,"tickWidth":1.5,
    "title":"Source : Terres Univia","titleX":710,"titleY":58,"titleAlign":"left","titleAnchor":null,"titleBaseline":"middle","titleFont":"DejaVu Sans","titleFontSize":14,"titleFontWeight":"normal","titleColor":"#333"}},
  "y":{"field":"v","type":"quantitative","scale":{"domain":[100,500],"nice":false,"zero":false},
   "axis":{"values":[100,150,200,250,300,350,400,450,500],"labelFont":"DejaVu Sans","labelFontSize":18,"labelFontWeight":"bold","labelColor":"#222","labelPadding":12,"grid":true,"gridColor":"#b5b5b5","gridWidth":1.3,"domainColor":"#555","domainWidth":2,"tickColor":"#555","tickSize":7,"tickWidth":1.5,
    "title":"€/t","titleAngle":0,"titleX":7,"titleY":-14,"titleAlign":"center","titleBaseline":"middle","titleFont":"DejaVu Sans","titleFontSize":18,"titleFontWeight":"bold","titleColor":"#222"}},
  "color":{"field":"s","type":"nominal","scale":{"domain":["J","S","E","N","B"],"range":["#ff6a13","#22c322","#ff00ff","#000000","#1414ff"]},"legend":null},
  "detail":{"field":"g","type":"nominal"}
 }},
{"data":{"name":"lines"},
 "transform":[{"filter":{"field":"g","oneOf":["k15","k20","o15","g10"]}}],
 "mark":{"type":"line","strokeWidth":2.5,"strokeDash":[10,5],"clip":true},
 "encoding":{
  "x":{"field":"t","type":"quantitative"},
  "y":{"field":"v","type":"quantitative"},
  "color":{"field":"s","type":"nominal","legend":null},
  "detail":{"field":"g","type":"nominal"}
 }},
{"data":{"name":"arrows"},
 "mark":{"type":"rule","color":"#333","strokeWidth":1.2},
 "encoding":{
  "x":{"field":"t","type":"quantitative"},
  "y":{"field":"v","type":"quantitative"},
  "x2":{"field":"t2"},
  "y2":{"field":"v2"}
 }},
{"data":{"name":"arrows"},
 "transform":[{"calculate":"atan2((datum.t2-datum.t)*117.95, (datum.v2-datum.v)*1.2325)*180/PI","as":"ang"}],
 "mark":{"type":"point","shape":"triangle-up","filled":true,"color":"#333","size":45,"opacity":1},
 "encoding":{
  "x":{"field":"t2","type":"quantitative"},
  "y":{"field":"v2","type":"quantitative"},
  "angle":{"field":"ang","type":"quantitative","scale":null}
 }},
{"data":{"name":"labels"},
 "transform":[{"filter":"datum.k == 'main'"}],
 "mark":{"type":"text","font":"DejaVu Sans","fontSize":16,"fontWeight":"bold","align":"center","baseline":"middle"},
 "encoding":{
  "x":{"field":"t","type":"quantitative"},
  "y":{"field":"v","type":"quantitative"},
  "text":{"field":"txt"},
  "color":{"field":"s","type":"nominal","legend":null}
 }},
{"data":{"name":"labels"},
 "transform":[{"filter":"datum.k == 'sub'"}],
 "mark":{"type":"text","font":"DejaVu Sans","fontSize":14,"fontWeight":"bold","align":"center","baseline":"middle"},
 "encoding":{
  "x":{"field":"t","type":"quantitative"},
  "y":{"field":"v","type":"quantitative"},
  "text":{"field":"txt"},
  "color":{"field":"s","type":"nominal","legend":null}
 }},
{"data":{"name":"labels"},
 "transform":[{"filter":"datum.k == 'big'"}],
 "mark":{"type":"text","font":"DejaVu Sans","fontSize":20,"fontWeight":"bold","align":"center","baseline":"middle"},
 "encoding":{
  "x":{"field":"t","type":"quantitative"},
  "y":{"field":"v","type":"quantitative"},
  "text":{"field":"txt"},
  "color":{"field":"s","type":"nominal","legend":null}
 }}
]
}
